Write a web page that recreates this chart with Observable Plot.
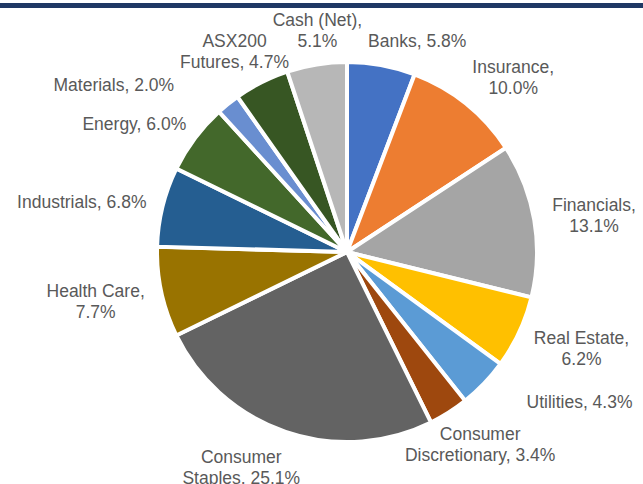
<!DOCTYPE html>
<html><head><meta charset="utf-8">
<script src="https://cdn.jsdelivr.net/npm/d3@7"></script>
<script src="https://cdn.jsdelivr.net/npm/@observablehq/plot@0.6"></script>
<style>
body{margin:0;background:#fff;}
#wrap{position:relative;width:643px;height:484px;overflow:hidden;background:#fff;}
#bar{position:absolute;left:0;top:3px;width:643px;height:5px;background:#1F3864;z-index:2;}
#wrap svg{display:block;position:absolute;left:0;top:0;}
</style></head><body>
<div id="wrap"><div id="bar"></div></div>
<script>
// ---- data ----
const sectors = ["Banks", "Insurance", "Financials", "Real Estate", "Utilities",
  "Consumer\nDiscretionary", "Consumer\nStaples", "Health Care", "Industrials",
  "Energy", "Materials", "ASX200\nFutures", "Cash (Net)"];
const weights = [5.8, 10.0, 13.1, 6.2, 4.3, 3.4, 25.1, 7.7, 6.8, 6.0, 2.0, 4.7, 5.1];
const valueOnNewLine = [false, true, true, true, false, false, false, true, false, false, false, false, true];
const sliceColors = ["#4472C4", "#ED7D31", "#A5A5A5", "#FFC000", "#5B9BD5", "#9E480E",
  "#636363", "#997300", "#255E91", "#43682B", "#698ED0", "#375623", "#B7B7B7"];

// ---- layout ----
const W = 643, H = 484, CX = 347, CY = 252;
const R = 190;          // pie radius (px units)
const RL = 208;         // label ring
const FS = 17.5, LH = 21, TH = 15;
const FONT = `${FS}px 'Liberation Sans', Arial, sans-serif`;

const rows = sectors.map((s, i) => ({
  sector: s, weight: weights[i],
  label: `${s},${valueOnNewLine[i] ? "\n" : " "}${weights[i].toFixed(1)}%`
}));
const arcs = d3.pie().sort(null).value(d => d.weight)(rows);

const mctx = document.createElement("canvas").getContext("2d");
mctx.font = FONT;
arcs.forEach(a => {
  a.lines = a.data.label.split("\n");
  a.lw = a.lines.map(l => mctx.measureText(l).width);
  a.w = Math.max(...a.lw);
  a.h = a.lines.length * LH;
  const t = (a.startAngle + a.endAngle) / 2, s = Math.sin(t), c = Math.cos(t);
  // outside-end placement: box pulled outward from the ring point at the mid-angle
  a.lx = RL * s + (a.w / 2) * (s + Math.sign(s)) / 2;
  a.ly = -(RL - 3 + a.h / 2) * c;
});

// horizontal dodge of neighbouring labels, line by line
const PADX = 6, PADY = 18, n = arcs.length;
const xMin = -CX + 2, xMax = W - CX - 2;
const boxes = a => a.lines.map((l, i) => {
  const y = a.ly + (i - (a.lines.length - 1) / 2) * LH;
  return {x0: a.lx - a.lw[i] / 2, x1: a.lx + a.lw[i] / 2, y0: y - TH / 2, y1: y + TH / 2};
});
const clamp = a => { a.lx = Math.max(xMin + a.w / 2, Math.min(xMax - a.w / 2, a.lx)); };
arcs.forEach(clamp);
for (let it = 0; it < 3000; it++) {
  let moved = false;
  for (let i = 0; i < n; i++) {
    let a = arcs[i], b = arcs[(i + 1) % n];
    if (a.lx > b.lx) [a, b] = [b, a];
    let need = 0;
    for (const p of boxes(a)) for (const q of boxes(b)) {
      if (p.y0 - PADY < q.y1 && q.y0 - PADY < p.y1) need = Math.max(need, p.x1 + PADX - q.x0);
    }
    if (need > 0.01) {
      const st = Math.min(need / 2, 0.5);
      a.lx -= st; b.lx += st; clamp(a); clamp(b); moved = true;
    }
  }
  if (!moved) break;
}

const color = Plot.scale({color: {type: "ordinal", domain: sectors, range: sliceColors}});

function slices(index, scales) {
  const x0 = scales.x(0), y0 = scales.y(0), k = Math.abs(scales.x(1) - scales.x(0));
  const arc = d3.arc().innerRadius(0).outerRadius(R * k);
  const g = d3.create("svg:g").attr("transform", `translate(${x0},${y0})`);
  g.selectAll("path").data(arcs).join("path")
    .attr("d", arc)
    .attr("fill", d => color.apply(d.data.sector))
    .attr("stroke", "#ffffff")
    .attr("stroke-width", 4);
  return g.node();
}

const chart = Plot.plot({
  width: W, height: H, margin: 0,
  style: {background: "#ffffff", overflow: "visible"},
  x: {domain: [-CX, W - CX], axis: null},
  y: {domain: [-CY, H - CY], reverse: true, axis: null},
  marks: [
    slices,
    Plot.text(arcs, {
      x: "lx", y: "ly", text: d => d.data.label,
      fontSize: FS, lineHeight: LH / FS, fill: "#595959",
      fontFamily: "'Liberation Sans', Arial, sans-serif",
      textAnchor: "middle"
    })
  ]
});
document.getElementById("wrap").appendChild(chart);
</script>
</body></html>
